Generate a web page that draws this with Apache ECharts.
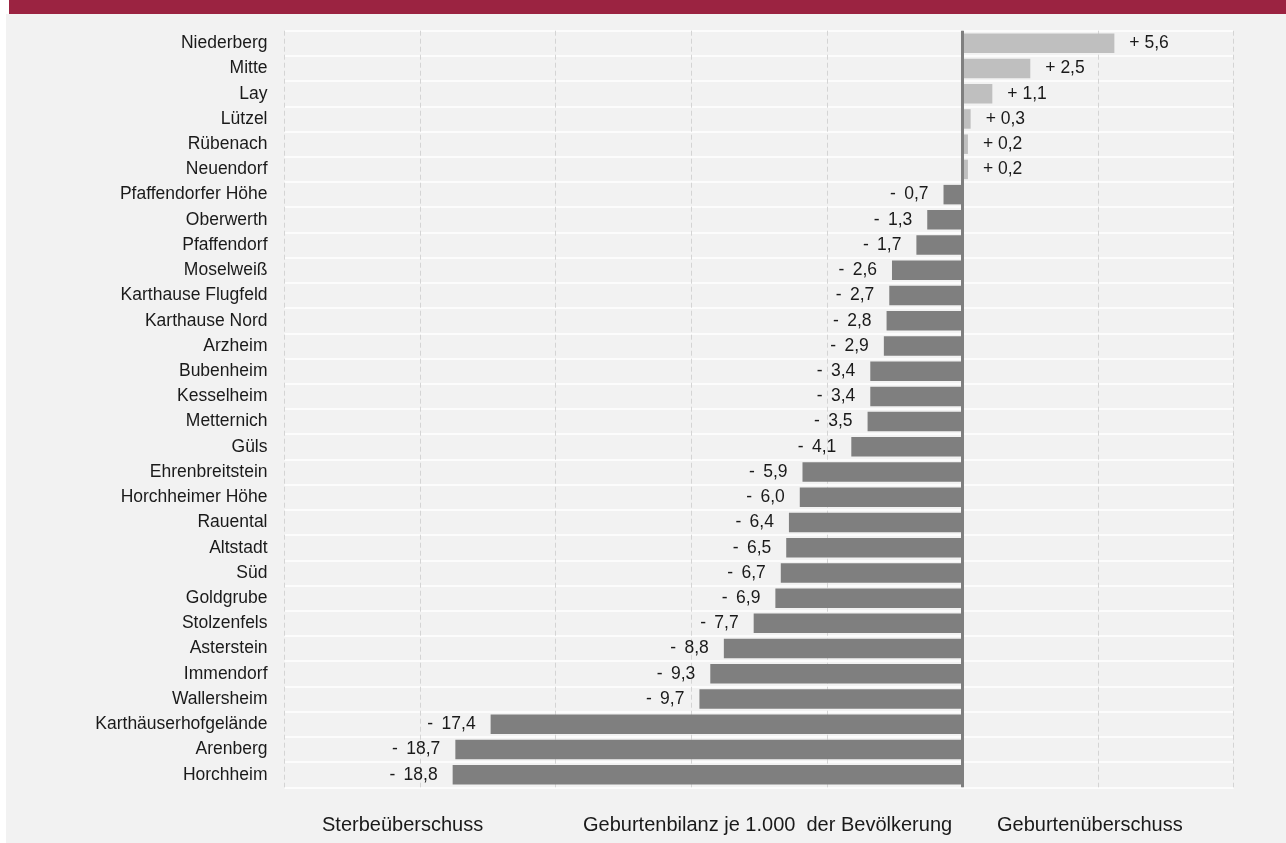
<!DOCTYPE html>
<html>
<head>
<meta charset="utf-8">
<script src="https://cdn.jsdelivr.net/npm/echarts@6/dist/echarts.min.js"></script>
<style>
html,body{margin:0;padding:0;background:#ffffff;}
#chart{width:1286px;height:843px;}
</style>
</head>
<body>
<div id="chart"></div>
<script>
const categories = ["Niederberg","Mitte","Lay","Lützel","Rübenach","Neuendorf","Pfaffendorfer Höhe","Oberwerth","Pfaffendorf","Moselweiß","Karthause Flugfeld","Karthause Nord","Arzheim","Bubenheim","Kesselheim","Metternich","Güls","Ehrenbreitstein","Horchheimer Höhe","Rauental","Altstadt","Süd","Goldgrube","Stolzenfels","Asterstein","Immendorf","Wallersheim","Karthäuserhofgelände","Arenberg","Horchheim"];
const values = [5.6,2.5,1.1,0.3,0.2,0.2,-0.7,-1.3,-1.7,-2.6,-2.7,-2.8,-2.9,-3.4,-3.4,-3.5,-4.1,-5.9,-6.0,-6.4,-6.5,-6.7,-6.9,-7.7,-8.8,-9.3,-9.7,-17.4,-18.7,-18.8];
const footerTexts = ["Sterbeüberschuss","Geburtenbilanz je 1.000  der Bevölkerung","Geburtenüberschuss"];

const FONT = '"Liberation Sans", Arial, sans-serif';
const chart = echarts.init(document.getElementById('chart'), null, {renderer:'canvas'});

function fmt(v){
  const s = Math.abs(v).toFixed(1).replace('.', ',');
  return v >= 0 ? '+ ' + s : '- \u2009' + s;
}

const data = values.map(v => ({
  value: v,
  itemStyle: {color: v >= 0 ? '#bfbfbf' : '#7f7f7f'},
  label: {position: v >= 0 ? 'right' : 'left'}
}));

const footerX = [322, 583, 997];

chart.setOption({
  animation: false,
  backgroundColor: 'transparent',
  graphic: [
    {type:'rect', z:-10, shape:{x:6, y:14, width:1280, height:829}, style:{fill:'#f2f2f2'}},
    {type:'rect', z:-10, shape:{x:9, y:0, width:1277, height:14}, style:{fill:'#9b2341'}}
  ].concat(footerTexts.map((t,i) => ({
    type:'text', left: footerX[i], top: 815,
    style:{text:t, fill:'#1a1a1a', font:'20px ' + FONT}
  }))),
  grid: {left: 284.5, right: 52.3, top: 30.7, bottom: 55.7, containLabel: false},
  xAxis: {
    type: 'value', min: -25, max: 10, interval: 5,
    axisLine: {show:false}, axisTick: {show:false}, axisLabel: {show:false},
    splitLine: {show:true, lineStyle:{color:'#d4d4d4', width:1, type:[5,3]}}
  },
  yAxis: {
    type: 'category', data: categories, inverse: true,
    axisLine: {show:false}, axisTick: {show:false},
    axisLabel: {color:'#1a1a1a', fontSize:17.5, fontFamily: FONT, margin:17},
    splitLine: {show:true, lineStyle:{color:'#ffffff', width:1.5}}
  },
  series: [{
    type: 'bar',
    data: data,
    barWidth: 19.5,
    label: {
      show: true, distance: 15, color:'#1a1a1a', fontSize:17.5, fontFamily: FONT,
      formatter: p => fmt(p.value)
    },
    markLine: {
      silent: true, symbol: ['none','none'],
      label: {show:false},
      lineStyle: {color:'#7f7f7f', width:3, type:'solid'},
      data: [{xAxis: 0}]
    }
  }]
});
</script>
</body>
</html>
